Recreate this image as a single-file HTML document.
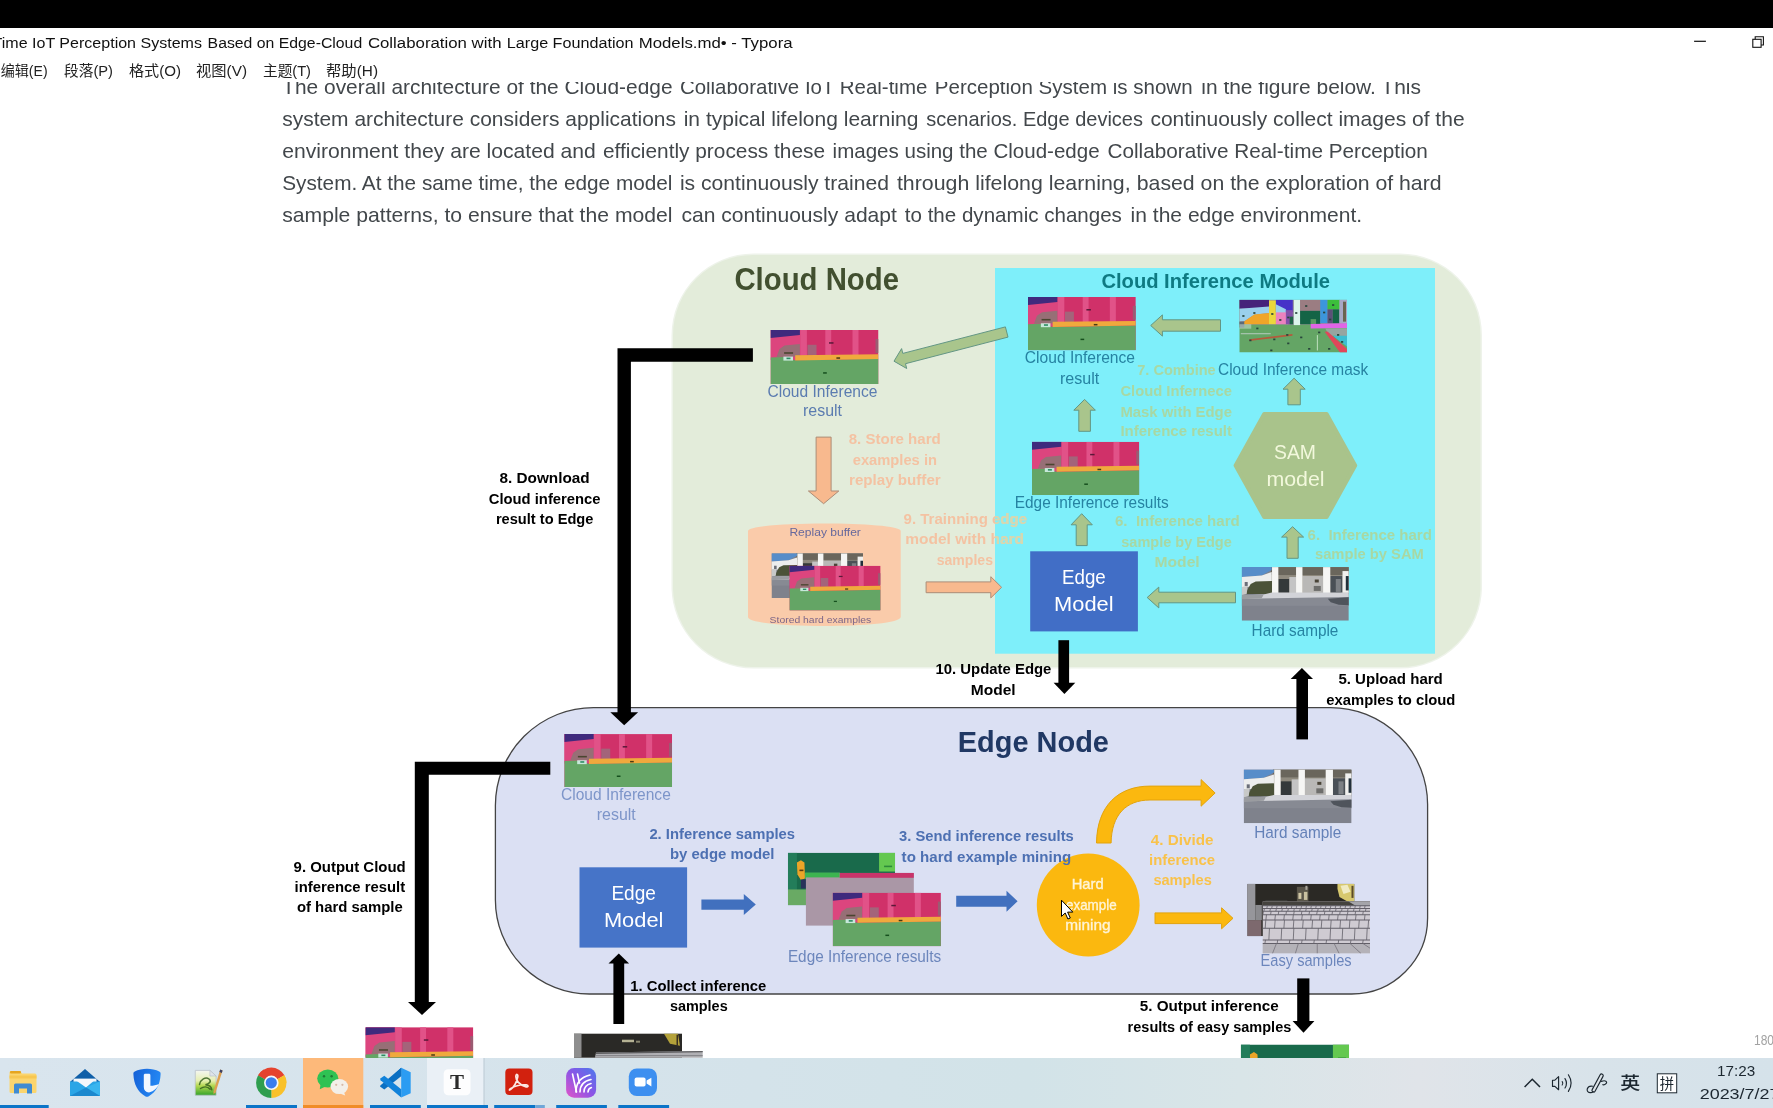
<!DOCTYPE html>
<html lang="zh-CN"><head><meta charset="utf-8"><title>Typora</title>
<style>
html,body{margin:0;padding:0;background:#fff;}
body{width:1773px;height:1108px;overflow:hidden;position:relative;font-family:"Liberation Sans","Noto Sans CJK SC",sans-serif;}
#blackbar{position:absolute;left:0;top:0;width:1773px;height:28px;background:#000;}
#titlebar{position:absolute;left:0;top:28px;width:1773px;height:30px;background:#fff;}
#menubar{position:absolute;left:0;top:58px;width:1773px;height:24px;background:#fff;}
#content{position:absolute;left:0;top:82px;width:1773px;height:976px;overflow:hidden;background:#fff;}
#taskbar{position:absolute;left:0;top:1058px;width:1773px;height:50px;background:linear-gradient(90deg,#d9e5ee 0%,#d5e3eb 35%,#d2e3e8 58%,#d9e5e8 70%,#e0e4e9 80%,#d8e3ea 90%,#d5e2ea 100%);overflow:hidden;}
div>svg{position:absolute;left:0;top:0;display:block;will-change:transform;}
svg text{font-family:"Liberation Sans","Noto Sans CJK SC",sans-serif;white-space:pre;}
</style></head>
<body>
<div id="blackbar"></div>
<div id="titlebar"><svg width="1773" height="30" viewBox="0 28 1773 30">
<text x="-7.5" y="47.6" font-size="15.4" fill="#111" font-weight="normal" textLength="209.5" lengthAdjust="spacingAndGlyphs" >Time IoT Perception Systems</text>
<text x="207.6" y="47.6" font-size="15.4" fill="#111" font-weight="normal" textLength="154.6" lengthAdjust="spacingAndGlyphs" >Based on Edge-Cloud</text>
<text x="367.9" y="47.6" font-size="15.4" fill="#111" font-weight="normal" textLength="133.6" lengthAdjust="spacingAndGlyphs" >Collaboration with</text>
<text x="506.8" y="47.6" font-size="15.4" fill="#111" font-weight="normal" textLength="126.7" lengthAdjust="spacingAndGlyphs" >Large Foundation</text>
<text x="638.7" y="47.6" font-size="15.4" fill="#111" font-weight="normal" textLength="153.9" lengthAdjust="spacingAndGlyphs" >Models.md• - Typora</text>
<rect x="1694.1" y="40.7" width="11.8" height="1.2" fill="#111"/>
<rect x="1752.8" y="39.3" width="8.3" height="8" fill="none" stroke="#111" stroke-width="1.1"/>
<path d="M1755.2 39.3 V36.8 H1763.4 V45 H1761.1" fill="none" stroke="#111" stroke-width="1.1"/>
</svg></div>
<div id="menubar"><svg width="1773" height="24" viewBox="0 58 1773 24">
<text x="0.8" y="75.8" font-size="14.6" fill="#222" font-weight="normal" textLength="46.8" lengthAdjust="spacingAndGlyphs" >编辑(E)</text>
<text x="64.0" y="75.8" font-size="14.6" fill="#222" font-weight="normal" textLength="49.0" lengthAdjust="spacingAndGlyphs" >段落(P)</text>
<text x="129.0" y="75.8" font-size="14.6" fill="#222" font-weight="normal" textLength="52.0" lengthAdjust="spacingAndGlyphs" >格式(O)</text>
<text x="196.0" y="75.8" font-size="14.6" fill="#222" font-weight="normal" textLength="51.0" lengthAdjust="spacingAndGlyphs" >视图(V)</text>
<text x="263.0" y="75.8" font-size="14.6" fill="#222" font-weight="normal" textLength="48.0" lengthAdjust="spacingAndGlyphs" >主题(T)</text>
<text x="326.0" y="75.8" font-size="14.6" fill="#222" font-weight="normal" textLength="52.0" lengthAdjust="spacingAndGlyphs" >帮助(H)</text>
</svg></div>
<div id="content"><svg width="1773" height="976" viewBox="0 82 1773 976">
<g>
<text x="282.2" y="94.0" font-size="20.6" fill="#42474b" font-weight="normal" textLength="390.4" lengthAdjust="spacingAndGlyphs" >The overall architecture of the Cloud-edge</text>
<text x="679.9" y="94.0" font-size="20.6" fill="#42474b" font-weight="normal" textLength="247.4" lengthAdjust="spacingAndGlyphs" >Collaborative IoT Real-time</text>
<text x="934.8" y="94.0" font-size="20.6" fill="#42474b" font-weight="normal" textLength="257.8" lengthAdjust="spacingAndGlyphs" >Perception System is shown</text>
<text x="1201.3" y="94.0" font-size="20.6" fill="#42474b" font-weight="normal" textLength="219.6" lengthAdjust="spacingAndGlyphs" >in the figure below. This</text>
</g>
<g>
<text x="282.2" y="126.0" font-size="20.6" fill="#42474b" font-weight="normal" textLength="393.8" lengthAdjust="spacingAndGlyphs" >system architecture considers applications</text>
<text x="683.7" y="126.0" font-size="20.6" fill="#42474b" font-weight="normal" textLength="234.8" lengthAdjust="spacingAndGlyphs" >in typical lifelong learning</text>
<text x="926.2" y="126.0" font-size="20.6" fill="#42474b" font-weight="normal" textLength="216.8" lengthAdjust="spacingAndGlyphs" >scenarios. Edge devices</text>
<text x="1150.4" y="126.0" font-size="20.6" fill="#42474b" font-weight="normal" textLength="314.2" lengthAdjust="spacingAndGlyphs" >continuously collect images of the</text>
</g>
<g>
<text x="282.2" y="158.0" font-size="20.6" fill="#42474b" font-weight="normal" textLength="313.6" lengthAdjust="spacingAndGlyphs" >environment they are located and</text>
<text x="603.0" y="158.0" font-size="20.6" fill="#42474b" font-weight="normal" textLength="222.0" lengthAdjust="spacingAndGlyphs" >efficiently process these</text>
<text x="832.6" y="158.0" font-size="20.6" fill="#42474b" font-weight="normal" textLength="267.0" lengthAdjust="spacingAndGlyphs" >images using the Cloud-edge</text>
<text x="1107.5" y="158.0" font-size="20.6" fill="#42474b" font-weight="normal" textLength="320.3" lengthAdjust="spacingAndGlyphs" >Collaborative Real-time Perception</text>
</g>
<g>
<text x="282.2" y="190.0" font-size="20.6" fill="#42474b" font-weight="normal" textLength="390.3" lengthAdjust="spacingAndGlyphs" >System. At the same time, the edge model</text>
<text x="679.9" y="190.0" font-size="20.6" fill="#42474b" font-weight="normal" textLength="209.1" lengthAdjust="spacingAndGlyphs" >is continuously trained</text>
<text x="896.9" y="190.0" font-size="20.6" fill="#42474b" font-weight="normal" textLength="233.7" lengthAdjust="spacingAndGlyphs" >through lifelong learning,</text>
<text x="1136.8" y="190.0" font-size="20.6" fill="#42474b" font-weight="normal" textLength="304.8" lengthAdjust="spacingAndGlyphs" >based on the exploration of hard</text>
</g>
<g>
<text x="282.2" y="222.0" font-size="20.6" fill="#42474b" font-weight="normal" textLength="390.3" lengthAdjust="spacingAndGlyphs" >sample patterns, to ensure that the model</text>
<text x="681.4" y="222.0" font-size="20.6" fill="#42474b" font-weight="normal" textLength="215.5" lengthAdjust="spacingAndGlyphs" >can continuously adapt</text>
<text x="904.8" y="222.0" font-size="20.6" fill="#42474b" font-weight="normal" textLength="217.1" lengthAdjust="spacingAndGlyphs" >to the dynamic changes</text>
<text x="1130.6" y="222.0" font-size="20.6" fill="#42474b" font-weight="normal" textLength="231.6" lengthAdjust="spacingAndGlyphs" >in the edge environment.</text>
</g>
<path d="M753.5,253.5 H1400.0 A82,82 0 0 1 1482.0,335.5 V586.5 A82,82 0 0 1 1400.0,668.5 H753.5 A82,82 0 0 1 671.5,586.5 V335.5 A82,82 0 0 1 753.5,253.5 Z" fill="#eef3ea"/>
<path d="M753.0,255.0 H1400.5 A80,80 0 0 1 1480.5,335.0 V587.0 A80,80 0 0 1 1400.5,667.0 H753.0 A80,80 0 0 1 673.0,587.0 V335.0 A80,80 0 0 1 753.0,255.0 Z" fill="#e3ecda"/>
<text x="734.4" y="289.7" font-size="31.5" fill="#425030" font-weight="bold" textLength="164.6" lengthAdjust="spacingAndGlyphs" >Cloud Node</text>
<rect x="995.0" y="268.0" width="440.0" height="385.7" fill="#7eeffa" />
<text x="1101.4" y="288.0" font-size="20.6" fill="#0e7a82" font-weight="bold" textLength="228.6" lengthAdjust="spacingAndGlyphs" >Cloud Inference Module</text>
<svg x="770.5" y="330.0" width="108.0" height="54.0" viewBox="0 0 108 54" preserveAspectRatio="none">
<rect x="0.0" y="0.0" width="108.0" height="54.0" fill="#d03169" />
<rect x="0.0" y="0.0" width="30.0" height="30.0" fill="#dc457e" />
<rect x="29.8" y="0.0" width="6.6" height="27.0" fill="#e15288" />
<rect x="54.8" y="0.0" width="5.9" height="27.0" fill="#e15288" />
<rect x="82.0" y="0.0" width="6.0" height="27.0" fill="#e15288" />
<polygon points="0.0,0.0 29.4,0.0 29.4,5.0 0.0,8.0" fill="#3f2a7d" />
<polygon points="6.0,27.0 9.0,19.0 14.0,15.5 29.4,14.0 29.4,26.6" fill="#976f76" />
<rect x="37.0" y="14.8" width="9.0" height="10.5" fill="#a3647a" />
<rect x="105.0" y="9.0" width="3.0" height="14.0" fill="#9a5c72" />
<polygon points="0.0,27.5 12.0,27.0 24.7,30.3 108.0,28.8 108.0,54.0 0.0,54.0" fill="#64a565" />
<polygon points="24.7,25.2 108.0,24.2 108.0,28.9 24.7,30.4" fill="#f0a93d" />
<rect x="12.9" y="26.6" width="9.6" height="4.0" fill="#c6e8da" />
<rect x="16.0" y="27.6" width="4.0" height="1.6" fill="#2e8a62" />
<rect x="13.6" y="22.2" width="9.0" height="1.6" fill="#4a4630" />
<rect x="58.5" y="12.2" width="4.5" height="1.5" fill="#5a1838" />
<rect x="65.9" y="27.3" width="3.7" height="1.5" fill="#4a3a12" />
<rect x="52.6" y="42.2" width="3.7" height="1.5" fill="#16501e" />
</svg>
<text x="767.5" y="396.8" font-size="16.8" fill="#5b7cb0" font-weight="normal" textLength="109.9" lengthAdjust="spacingAndGlyphs" >Cloud Inference</text>
<text x="803.0" y="416.0" font-size="16.8" fill="#5b7cb0" font-weight="normal" textLength="39.0" lengthAdjust="spacingAndGlyphs" >result</text>
<polygon points="823.6,503.7 838.8,491.0 831.1,491.0 831.1,437.1 816.1,437.1 816.1,491.0 808.4,491.0" fill="#f8b98e" stroke="#ab8d78" stroke-width="1" stroke-linejoin="miter"/>
<text x="848.7" y="444.2" font-size="15.2" fill="#f4c2a2" font-weight="bold" textLength="92.0" lengthAdjust="spacingAndGlyphs" >8. Store hard</text>
<text x="852.7" y="464.5" font-size="15.2" fill="#f4c2a2" font-weight="bold" textLength="84.3" lengthAdjust="spacingAndGlyphs" >examples in</text>
<text x="849.0" y="484.8" font-size="15.2" fill="#f4c2a2" font-weight="bold" textLength="91.7" lengthAdjust="spacingAndGlyphs" >replay buffer</text>
<path d="M748,531 C748,521 900.7,521 900.7,531 V617 C900.7,629 748,629 748,617 Z" fill="#facbaa"/>
<text x="789.4" y="535.6" font-size="10.8" fill="#66689c" font-weight="normal" textLength="71.5" lengthAdjust="spacingAndGlyphs" >Replay buffer</text>
<svg x="771.5" y="553.3" width="91.5" height="44.7" viewBox="0 0 107 54" preserveAspectRatio="none">
<rect x="0.0" y="0.0" width="107.0" height="54.0" fill="#7f828c" />
<rect x="0.0" y="30.0" width="107.0" height="9.0" fill="#878a93" />
<rect x="29.0" y="0.0" width="78.0" height="27.0" fill="#8f8a7e" />
<rect x="29.0" y="0.0" width="78.0" height="8.0" fill="#6a665c" />
<rect x="36.6" y="12.0" width="11.0" height="14.0" fill="#34393a" />
<rect x="47.6" y="10.0" width="7.0" height="16.0" fill="#c4c4c4" />
<rect x="60.7" y="9.0" width="20.6" height="17.0" fill="#b9b8b6" />
<rect x="73.0" y="12.5" width="4.0" height="3.0" fill="#4a4438" />
<rect x="72.0" y="19.0" width="7.0" height="5.0" fill="#6e6e6c" />
<rect x="88.5" y="9.0" width="12.2" height="17.0" fill="#4a5056" />
<rect x="94.0" y="12.0" width="5.0" height="13.0" fill="#7c8084" />
<polygon points="0.0,0.0 30.0,0.0 30.0,3.0 20.0,8.5 0.0,10.0" fill="#578dc9" />
<polygon points="0.0,10.0 20.0,8.5 30.0,5.0 30.0,19.0 0.0,20.0" fill="#eceded" />
<rect x="3.0" y="15.0" width="3.0" height="4.0" fill="#6a6e78" />
<polygon points="5.0,24.0 9.0,17.0 14.0,14.5 30.3,14.0 30.3,27.0 4.0,27.0" fill="#4b5238" />
<polygon points="0.0,20.0 6.0,19.0 5.0,27.0 0.0,28.0" fill="#c8c9c8" />
<rect x="30.3" y="0.0" width="6.3" height="26.5" fill="#f6f6f4" />
<rect x="54.3" y="0.0" width="6.4" height="26.5" fill="#f6f6f4" />
<rect x="81.3" y="0.0" width="7.2" height="26.5" fill="#f6f6f4" />
<rect x="100.7" y="4.0" width="6.3" height="22.0" fill="#f0f0ee" />
<rect x="104.0" y="9.0" width="3.0" height="14.5" fill="#22303a" />
<polygon points="22.0,27.5 30.0,25.6 107.0,25.6 107.0,30.0 0.0,32.0 0.0,28.5" fill="#d2d3d8" />
<polygon points="0.0,28.0 22.0,27.5 20.0,31.5 0.0,32.5" fill="#9a9ca0" />
<polygon points="86.0,32.0 107.0,30.5 107.0,38.5 97.0,38.0 89.0,35.5" fill="#4f545c" />
</svg>
<svg x="789.4" y="565.7" width="91.2" height="44.9" viewBox="0 0 108 54" preserveAspectRatio="none">
<rect x="0.0" y="0.0" width="108.0" height="54.0" fill="#d03169" />
<rect x="0.0" y="0.0" width="30.0" height="30.0" fill="#dc457e" />
<rect x="29.8" y="0.0" width="6.6" height="27.0" fill="#e15288" />
<rect x="54.8" y="0.0" width="5.9" height="27.0" fill="#e15288" />
<rect x="82.0" y="0.0" width="6.0" height="27.0" fill="#e15288" />
<polygon points="0.0,0.0 29.4,0.0 29.4,5.0 0.0,8.0" fill="#3f2a7d" />
<polygon points="6.0,27.0 9.0,19.0 14.0,15.5 29.4,14.0 29.4,26.6" fill="#976f76" />
<rect x="37.0" y="14.8" width="9.0" height="10.5" fill="#a3647a" />
<rect x="105.0" y="9.0" width="3.0" height="14.0" fill="#9a5c72" />
<polygon points="0.0,27.5 12.0,27.0 24.7,30.3 108.0,28.8 108.0,54.0 0.0,54.0" fill="#64a565" />
<polygon points="24.7,25.2 108.0,24.2 108.0,28.9 24.7,30.4" fill="#f0a93d" />
<rect x="12.9" y="26.6" width="9.6" height="4.0" fill="#c6e8da" />
<rect x="16.0" y="27.6" width="4.0" height="1.6" fill="#2e8a62" />
<rect x="13.6" y="22.2" width="9.0" height="1.6" fill="#4a4630" />
<rect x="58.5" y="12.2" width="4.5" height="1.5" fill="#5a1838" />
<rect x="65.9" y="27.3" width="3.7" height="1.5" fill="#4a3a12" />
<rect x="52.6" y="42.2" width="3.7" height="1.5" fill="#16501e" />
</svg>
<text x="769.6" y="623.2" font-size="9.9" fill="#7c6688" font-weight="normal" textLength="101.6" lengthAdjust="spacingAndGlyphs" >Stored hard examples</text>
<text x="903.6" y="523.5" font-size="15.2" fill="#f4c2a2" font-weight="bold" textLength="123.4" lengthAdjust="spacingAndGlyphs" >9. Trainning edge</text>
<text x="905.3" y="544.3" font-size="15.2" fill="#f4c2a2" font-weight="bold" textLength="118.7" lengthAdjust="spacingAndGlyphs" >model with hard</text>
<text x="936.7" y="564.9" font-size="15.2" fill="#f4c2a2" font-weight="bold" textLength="56.3" lengthAdjust="spacingAndGlyphs" >samples</text>
<polygon points="1001.6,587.3 990.8,576.7 990.8,581.9 926.1,581.9 926.1,592.7 990.8,592.7 990.8,597.9" fill="#f8b98e" stroke="#ab8d78" stroke-width="1"/>
<svg x="995" y="268" width="440" height="386" viewBox="995 268 440 386">
<text x="903.6" y="523.5" font-size="15.2" fill="#d3dab2" font-weight="bold" textLength="123.4" lengthAdjust="spacingAndGlyphs" >9. Trainning edge</text>
<text x="905.3" y="544.3" font-size="15.2" fill="#d3dab2" font-weight="bold" textLength="118.7" lengthAdjust="spacingAndGlyphs" >model with hard</text>
</svg>
<polygon points="894.0,361.2 901.6,348.6 902.8,353.4 1005.4,326.9 1008.0,337.1 905.5,363.7 906.7,368.5" fill="#a9c58c" stroke="#639684" stroke-width="1"/>
<svg x="1028.0" y="297.0" width="107.8" height="53.3" viewBox="0 0 108 54" preserveAspectRatio="none">
<rect x="0.0" y="0.0" width="108.0" height="54.0" fill="#d03169" />
<rect x="0.0" y="0.0" width="30.0" height="30.0" fill="#dc457e" />
<rect x="29.8" y="0.0" width="6.6" height="27.0" fill="#e15288" />
<rect x="54.8" y="0.0" width="5.9" height="27.0" fill="#e15288" />
<rect x="82.0" y="0.0" width="6.0" height="27.0" fill="#e15288" />
<polygon points="0.0,0.0 29.4,0.0 29.4,5.0 0.0,8.0" fill="#3f2a7d" />
<polygon points="6.0,27.0 9.0,19.0 14.0,15.5 29.4,14.0 29.4,26.6" fill="#976f76" />
<rect x="37.0" y="14.8" width="9.0" height="10.5" fill="#a3647a" />
<rect x="105.0" y="9.0" width="3.0" height="14.0" fill="#9a5c72" />
<polygon points="0.0,27.5 12.0,27.0 24.7,30.3 108.0,28.8 108.0,54.0 0.0,54.0" fill="#64a565" />
<polygon points="24.7,25.2 108.0,24.2 108.0,28.9 24.7,30.4" fill="#f0a93d" />
<rect x="12.9" y="26.6" width="9.6" height="4.0" fill="#c6e8da" />
<rect x="16.0" y="27.6" width="4.0" height="1.6" fill="#2e8a62" />
<rect x="13.6" y="22.2" width="9.0" height="1.6" fill="#4a4630" />
<rect x="58.5" y="12.2" width="4.5" height="1.5" fill="#5a1838" />
<rect x="65.9" y="27.3" width="3.7" height="1.5" fill="#4a3a12" />
<rect x="52.6" y="42.2" width="3.7" height="1.5" fill="#16501e" />
</svg>
<text x="1024.8" y="363.3" font-size="16.8" fill="#2683a2" font-weight="normal" textLength="110.2" lengthAdjust="spacingAndGlyphs" >Cloud Inference</text>
<text x="1060.0" y="383.6" font-size="16.8" fill="#2683a2" font-weight="normal" textLength="39.3" lengthAdjust="spacingAndGlyphs" >result</text>
<polygon points="1150.7,325.5 1162.4,314.9 1162.4,319.8 1220.5,319.8 1220.5,331.2 1162.4,331.2 1162.4,336.1" fill="#a9c58c" stroke="#639684" stroke-width="1"/>
<svg x="1239.3" y="299.7" width="107.7" height="52.8" viewBox="0 0 108 53" preserveAspectRatio="none">
<rect x="0.0" y="0.0" width="108.0" height="53.0" fill="#64a565" />
<rect x="0.0" y="0.0" width="108.0" height="25.0" fill="#8f8a96" />
<rect x="0.0" y="0.0" width="29.8" height="9.0" fill="#46237a" />
<polygon points="0.0,9.0 29.8,6.8 29.8,13.4 15.0,15.0 5.5,21.5 0.0,22.0" fill="#9ad0ec" />
<polygon points="5.5,21.5 15.0,14.9 29.8,13.4 29.8,24.6 3.0,24.6" fill="#f0a528" />
<rect x="0.0" y="22.0" width="5.0" height="6.0" fill="#5a6a78" />
<rect x="29.8" y="0.8" width="6.9" height="23.8" fill="#ebd73c" />
<rect x="36.7" y="0.0" width="16.9" height="12.5" fill="#4632c8" />
<polygon points="36.7,4.6 46.7,9.7 46.7,13.4 36.7,13.4" fill="#9ad0ec" />
<rect x="36.7" y="12.7" width="12.2" height="11.9" fill="#eb82be" />
<rect x="46.7" y="10.5" width="6.9" height="14.1" fill="#8250aa" />
<rect x="50.5" y="17.0" width="3.5" height="7.6" fill="#1e6446" />
<rect x="54.7" y="0.0" width="6.3" height="25.5" fill="#dcf5eb" />
<rect x="61.0" y="0.0" width="20.2" height="11.2" fill="#9b7d82" />
<rect x="61.0" y="11.2" width="20.2" height="13.4" fill="#146446" />
<rect x="71.5" y="19.5" width="5.5" height="5.0" fill="#5a9a64" />
<rect x="81.2" y="0.0" width="7.3" height="23.5" fill="#3c96dc" />
<rect x="88.5" y="0.0" width="12.5" height="9.7" fill="#3cbe3c" />
<rect x="88.5" y="9.7" width="5.2" height="14.0" fill="#5a5078" />
<rect x="93.7" y="9.7" width="6.6" height="14.0" fill="#146446" />
<rect x="100.3" y="0.0" width="7.7" height="24.0" fill="#a8a8c6" />
<rect x="104.0" y="2.0" width="3.0" height="20.0" fill="#6a6450" />
<polygon points="71.6,24.4 108.0,23.6 108.0,28.5 71.6,28.8" fill="#e164e6" />
<polygon points="86.3,28.9 108.0,28.6 108.0,36.4 90.0,36.2" fill="#96a5a0" />
<polygon points="93.7,36.2 108.0,36.2 108.0,47.0" fill="#3cbed2" />
<polygon points="85.6,32.2 88.5,31.8 108.0,49.5 108.0,53.0 101.0,53.0" fill="#e1465a" />
<polygon points="9.9,39.6 53.3,34.4 53.3,36.2 9.9,41.4" fill="#b45a3c" />
<rect x="0.0" y="24.6" width="12.0" height="4.5" fill="#c8dcd2" opacity="0.55"/>
<rect x="1.5" y="33.5" width="30.0" height="1.2" fill="#a8c4b0" />
<rect x="77.8" y="35.5" width="0.9" height="15.5" fill="#c8e6c8" />
<rect x="14.0" y="12.5" width="2.2" height="1.7" fill="#28463c" />
<rect x="32.0" y="13.5" width="2.2" height="1.7" fill="#28463c" />
<rect x="3.0" y="15.5" width="2.2" height="1.7" fill="#28463c" />
<rect x="40.0" y="19.5" width="2.2" height="1.7" fill="#28463c" />
<rect x="48.0" y="17.0" width="2.2" height="1.7" fill="#28463c" />
<rect x="56.0" y="12.5" width="2.2" height="1.7" fill="#28463c" />
<rect x="66.0" y="5.5" width="2.2" height="1.7" fill="#28463c" />
<rect x="84.0" y="12.0" width="2.2" height="1.7" fill="#28463c" />
<rect x="93.0" y="4.5" width="2.2" height="1.7" fill="#28463c" />
<rect x="90.0" y="19.0" width="2.2" height="1.7" fill="#28463c" />
<rect x="17.0" y="28.0" width="2.2" height="1.7" fill="#28463c" />
<rect x="34.0" y="39.0" width="2.2" height="1.7" fill="#28463c" />
<rect x="47.0" y="34.5" width="2.2" height="1.7" fill="#28463c" />
<rect x="61.0" y="37.0" width="2.2" height="1.7" fill="#28463c" />
<rect x="79.0" y="32.0" width="2.2" height="1.7" fill="#28463c" />
<rect x="48.0" y="43.0" width="2.2" height="1.7" fill="#28463c" />
<rect x="31.0" y="50.0" width="2.2" height="1.7" fill="#28463c" />
<rect x="69.0" y="48.5" width="2.2" height="1.7" fill="#28463c" />
<rect x="89.0" y="48.5" width="2.2" height="1.7" fill="#28463c" />
<rect x="98.0" y="34.5" width="2.2" height="1.7" fill="#28463c" />
<rect x="102.0" y="41.5" width="2.2" height="1.7" fill="#28463c" />
<rect x="10.0" y="40.0" width="2.2" height="1.7" fill="#28463c" />
</svg>
<text x="1137.2" y="375.0" font-size="15.2" fill="#a8d8a3" font-weight="bold" textLength="78.5" lengthAdjust="spacingAndGlyphs" >7. Combine</text>
<text x="1218.0" y="375.0" font-size="16.8" fill="#2683a2" font-weight="normal" textLength="150.2" lengthAdjust="spacingAndGlyphs" >Cloud Inference mask</text>
<text x="1120.4" y="395.8" font-size="15.2" fill="#a8d8a3" font-weight="bold" textLength="111.6" lengthAdjust="spacingAndGlyphs" >Cloud Infernece</text>
<text x="1120.4" y="416.6" font-size="15.2" fill="#a8d8a3" font-weight="bold" textLength="111.6" lengthAdjust="spacingAndGlyphs" >Mask with Edge</text>
<text x="1120.4" y="435.8" font-size="15.2" fill="#a8d8a3" font-weight="bold" textLength="111.6" lengthAdjust="spacingAndGlyphs" >Inference result</text>
<polygon points="1084.6,399.4 1095.4,410.2 1090.4,410.2 1090.4,431.3 1078.8,431.3 1078.8,410.2 1073.8,410.2" fill="#a9c58c" stroke="#639684" stroke-width="1" stroke-linejoin="miter"/>
<polygon points="1294.1,378.2 1305.2,389.2 1300.3,389.2 1300.3,404.8 1287.9,404.8 1287.9,389.2 1283.0,389.2" fill="#a9c58c" stroke="#639684" stroke-width="1" stroke-linejoin="miter"/>
<polygon points="1235.6,465.5 1264.2,414.0 1326.6,414.0 1355.2,465.5 1326.6,517.0 1264.2,517.0" fill="#a9c38b" stroke="#a9c38b" stroke-width="4" stroke-linejoin="round"/>
<text x="1274.0" y="458.6" font-size="20.4" fill="#f2f8dc" font-weight="normal" textLength="42.0" lengthAdjust="spacingAndGlyphs" >SAM</text>
<text x="1266.4" y="485.6" font-size="20.4" fill="#f2f8dc" font-weight="normal" textLength="58.2" lengthAdjust="spacingAndGlyphs" >model</text>
<svg x="1032.0" y="441.8" width="107.3" height="53.3" viewBox="0 0 108 54" preserveAspectRatio="none">
<rect x="0.0" y="0.0" width="108.0" height="54.0" fill="#d03169" />
<rect x="0.0" y="0.0" width="30.0" height="30.0" fill="#dc457e" />
<rect x="29.8" y="0.0" width="6.6" height="27.0" fill="#e15288" />
<rect x="54.8" y="0.0" width="5.9" height="27.0" fill="#e15288" />
<rect x="82.0" y="0.0" width="6.0" height="27.0" fill="#e15288" />
<polygon points="0.0,0.0 29.4,0.0 29.4,5.0 0.0,8.0" fill="#3f2a7d" />
<polygon points="6.0,27.0 9.0,19.0 14.0,15.5 29.4,14.0 29.4,26.6" fill="#976f76" />
<rect x="37.0" y="14.8" width="9.0" height="10.5" fill="#a3647a" />
<rect x="105.0" y="9.0" width="3.0" height="14.0" fill="#9a5c72" />
<polygon points="0.0,27.5 12.0,27.0 24.7,30.3 108.0,28.8 108.0,54.0 0.0,54.0" fill="#64a565" />
<polygon points="24.7,25.2 108.0,24.2 108.0,28.9 24.7,30.4" fill="#f0a93d" />
<rect x="12.9" y="26.6" width="9.6" height="4.0" fill="#c6e8da" />
<rect x="16.0" y="27.6" width="4.0" height="1.6" fill="#2e8a62" />
<rect x="13.6" y="22.2" width="9.0" height="1.6" fill="#4a4630" />
<rect x="58.5" y="12.2" width="4.5" height="1.5" fill="#5a1838" />
<rect x="65.9" y="27.3" width="3.7" height="1.5" fill="#4a3a12" />
<rect x="52.6" y="42.2" width="3.7" height="1.5" fill="#16501e" />
</svg>
<text x="1014.8" y="508.1" font-size="16.8" fill="#2683a2" font-weight="normal" textLength="154.0" lengthAdjust="spacingAndGlyphs" >Edge Inference results</text>
<polygon points="1081.7,513.7 1092.3,524.8 1087.2,524.8 1087.2,545.6 1076.2,545.6 1076.2,524.8 1071.1,524.8" fill="#a9c58c" stroke="#639684" stroke-width="1" stroke-linejoin="miter"/>
<text x="1115.0" y="526.2" font-size="15.2" fill="#a8d8a3" font-weight="bold" textLength="124.7" lengthAdjust="spacingAndGlyphs" >6.  Inference hard</text>
<text x="1121.3" y="546.5" font-size="15.2" fill="#a8d8a3" font-weight="bold" textLength="110.5" lengthAdjust="spacingAndGlyphs" >sample by Edge</text>
<text x="1154.5" y="567.1" font-size="15.2" fill="#a8d8a3" font-weight="bold" textLength="45.2" lengthAdjust="spacingAndGlyphs" >Model</text>
<polygon points="1292.6,526.7 1303.6,537.1 1298.2,537.1 1298.2,558.3 1287.0,558.3 1287.0,537.1 1281.6,537.1" fill="#a9c58c" stroke="#639684" stroke-width="1" stroke-linejoin="miter"/>
<text x="1307.6" y="539.5" font-size="15.2" fill="#a8d8a3" font-weight="bold" textLength="124.2" lengthAdjust="spacingAndGlyphs" >6.  Inference hard</text>
<text x="1315.0" y="559.0" font-size="15.2" fill="#a8d8a3" font-weight="bold" textLength="108.8" lengthAdjust="spacingAndGlyphs" >sample by SAM</text>
<rect x="1030.2" y="551.3" width="107.7" height="80.1" fill="#416ec6" />
<text x="1062.0" y="584.0" font-size="20.4" fill="#fff" font-weight="normal" textLength="43.8" lengthAdjust="spacingAndGlyphs" >Edge</text>
<text x="1054.1" y="611.4" font-size="20.4" fill="#fff" font-weight="normal" textLength="59.5" lengthAdjust="spacingAndGlyphs" >Model</text>
<polygon points="1147.2,597.5 1158.8,587.1 1158.8,592.2 1235.5,592.2 1235.5,602.8 1158.8,602.8 1158.8,607.9" fill="#a9c58c" stroke="#639684" stroke-width="1"/>
<svg x="1241.7" y="567.1" width="107.1" height="53.6" viewBox="0 0 107 54" preserveAspectRatio="none">
<rect x="0.0" y="0.0" width="107.0" height="54.0" fill="#7f828c" />
<rect x="0.0" y="30.0" width="107.0" height="9.0" fill="#878a93" />
<rect x="29.0" y="0.0" width="78.0" height="27.0" fill="#8f8a7e" />
<rect x="29.0" y="0.0" width="78.0" height="8.0" fill="#6a665c" />
<rect x="36.6" y="12.0" width="11.0" height="14.0" fill="#34393a" />
<rect x="47.6" y="10.0" width="7.0" height="16.0" fill="#c4c4c4" />
<rect x="60.7" y="9.0" width="20.6" height="17.0" fill="#b9b8b6" />
<rect x="73.0" y="12.5" width="4.0" height="3.0" fill="#4a4438" />
<rect x="72.0" y="19.0" width="7.0" height="5.0" fill="#6e6e6c" />
<rect x="88.5" y="9.0" width="12.2" height="17.0" fill="#4a5056" />
<rect x="94.0" y="12.0" width="5.0" height="13.0" fill="#7c8084" />
<polygon points="0.0,0.0 30.0,0.0 30.0,3.0 20.0,8.5 0.0,10.0" fill="#578dc9" />
<polygon points="0.0,10.0 20.0,8.5 30.0,5.0 30.0,19.0 0.0,20.0" fill="#eceded" />
<rect x="3.0" y="15.0" width="3.0" height="4.0" fill="#6a6e78" />
<polygon points="5.0,24.0 9.0,17.0 14.0,14.5 30.3,14.0 30.3,27.0 4.0,27.0" fill="#4b5238" />
<polygon points="0.0,20.0 6.0,19.0 5.0,27.0 0.0,28.0" fill="#c8c9c8" />
<rect x="30.3" y="0.0" width="6.3" height="26.5" fill="#f6f6f4" />
<rect x="54.3" y="0.0" width="6.4" height="26.5" fill="#f6f6f4" />
<rect x="81.3" y="0.0" width="7.2" height="26.5" fill="#f6f6f4" />
<rect x="100.7" y="4.0" width="6.3" height="22.0" fill="#f0f0ee" />
<rect x="104.0" y="9.0" width="3.0" height="14.5" fill="#22303a" />
<polygon points="22.0,27.5 30.0,25.6 107.0,25.6 107.0,30.0 0.0,32.0 0.0,28.5" fill="#d2d3d8" />
<polygon points="0.0,28.0 22.0,27.5 20.0,31.5 0.0,32.5" fill="#9a9ca0" />
<polygon points="86.0,32.0 107.0,30.5 107.0,38.5 97.0,38.0 89.0,35.5" fill="#4f545c" />
</svg>
<text x="1251.6" y="636.0" font-size="16.8" fill="#2683a2" font-weight="normal" textLength="86.8" lengthAdjust="spacingAndGlyphs" >Hard sample</text>
<path d="M593.4,707.6 H1330.6 A97,97 0 0 1 1427.6,804.6 V918.0 A76,76 0 0 1 1351.6,994.0 H589.4 A94,94 0 0 1 495.4,900.0 V805.6 A98,98 0 0 1 593.4,707.6 Z" fill="#dbe0f3" stroke="#444" stroke-width="1.3"/>
<text x="957.8" y="752.4" font-size="29.5" fill="#203864" font-weight="bold" textLength="151.1" lengthAdjust="spacingAndGlyphs" >Edge Node</text>
<svg x="564.3" y="734.1" width="107.8" height="53.0" viewBox="0 0 108 54" preserveAspectRatio="none">
<rect x="0.0" y="0.0" width="108.0" height="54.0" fill="#d03169" />
<rect x="0.0" y="0.0" width="30.0" height="30.0" fill="#dc457e" />
<rect x="29.8" y="0.0" width="6.6" height="27.0" fill="#e15288" />
<rect x="54.8" y="0.0" width="5.9" height="27.0" fill="#e15288" />
<rect x="82.0" y="0.0" width="6.0" height="27.0" fill="#e15288" />
<polygon points="0.0,0.0 29.4,0.0 29.4,5.0 0.0,8.0" fill="#3f2a7d" />
<polygon points="6.0,27.0 9.0,19.0 14.0,15.5 29.4,14.0 29.4,26.6" fill="#976f76" />
<rect x="37.0" y="14.8" width="9.0" height="10.5" fill="#a3647a" />
<rect x="105.0" y="9.0" width="3.0" height="14.0" fill="#9a5c72" />
<polygon points="0.0,27.5 12.0,27.0 24.7,30.3 108.0,28.8 108.0,54.0 0.0,54.0" fill="#64a565" />
<polygon points="24.7,25.2 108.0,24.2 108.0,28.9 24.7,30.4" fill="#f0a93d" />
<rect x="12.9" y="26.6" width="9.6" height="4.0" fill="#c6e8da" />
<rect x="16.0" y="27.6" width="4.0" height="1.6" fill="#2e8a62" />
<rect x="13.6" y="22.2" width="9.0" height="1.6" fill="#4a4630" />
<rect x="58.5" y="12.2" width="4.5" height="1.5" fill="#5a1838" />
<rect x="65.9" y="27.3" width="3.7" height="1.5" fill="#4a3a12" />
<rect x="52.6" y="42.2" width="3.7" height="1.5" fill="#16501e" />
</svg>
<text x="561.0" y="800.0" font-size="16.8" fill="#7d95c9" font-weight="normal" textLength="109.8" lengthAdjust="spacingAndGlyphs" >Cloud Inference</text>
<text x="596.8" y="820.2" font-size="16.8" fill="#7d95c9" font-weight="normal" textLength="39.0" lengthAdjust="spacingAndGlyphs" >result</text>
<text x="649.4" y="838.7" font-size="15.2" fill="#4d70b2" font-weight="bold" textLength="145.6" lengthAdjust="spacingAndGlyphs" >2. Inference samples</text>
<text x="669.9" y="858.8" font-size="15.2" fill="#4d70b2" font-weight="bold" textLength="104.6" lengthAdjust="spacingAndGlyphs" >by edge model</text>
<rect x="579.5" y="867.3" width="107.6" height="80.3" fill="#4674c8" />
<text x="611.4" y="899.8" font-size="20.4" fill="#fff" font-weight="normal" textLength="44.5" lengthAdjust="spacingAndGlyphs" >Edge</text>
<text x="603.9" y="927.4" font-size="20.4" fill="#fff" font-weight="normal" textLength="59.5" lengthAdjust="spacingAndGlyphs" >Model</text>
<polygon points="755.8,904.6 743.8,894.1 743.8,899.5 701.4,899.5 701.4,909.7 743.8,909.7 743.8,915.1" fill="#4170be" />
<svg x="787.9" y="852.7" width="107.2" height="52.6" viewBox="0 0 107 53" preserveAspectRatio="none">
<rect x="0.0" y="0.0" width="107.0" height="53.0" fill="#196a4b" />
<rect x="0.0" y="0.0" width="9.0" height="38.0" fill="#237d5a" />
<rect x="91.0" y="0.0" width="16.0" height="19.0" fill="#64c850" />
<rect x="17.0" y="20.0" width="35.0" height="6.5" fill="#3cb450" />
<polygon points="9.0,10.0 13.0,7.5 16.5,10.0 17.0,26.0 13.0,27.5 9.5,22.0" fill="#eba528" />
<rect x="13.0" y="27.0" width="5.0" height="9.0" fill="#28325a" />
<rect x="0.0" y="37.0" width="107.0" height="16.0" fill="#69aa64" />
<rect x="29.0" y="23.0" width="10.0" height="1.8" fill="#0f4628" />
<rect x="96.0" y="13.0" width="8.0" height="1.6" fill="#2e8a3a" />
<rect x="11.5" y="17.0" width="4.0" height="1.6" fill="#5a3a14" />
</svg>
<svg x="805.7" y="872.8" width="108.2" height="53.0" viewBox="0 0 108 53" preserveAspectRatio="none">
<rect x="0.0" y="0.0" width="108.0" height="53.0" fill="#aa97a6" />
<rect x="33.8" y="0.0" width="74.2" height="5.0" fill="#c8346a" />
<rect x="0.0" y="0.0" width="33.8" height="4.6" fill="#3cb450" />
</svg>
<svg x="832.7" y="892.7" width="108.2" height="53.6" viewBox="0 0 108 54" preserveAspectRatio="none">
<rect x="0.0" y="0.0" width="108.0" height="54.0" fill="#d03169" />
<rect x="0.0" y="0.0" width="30.0" height="30.0" fill="#dc457e" />
<rect x="29.8" y="0.0" width="6.6" height="27.0" fill="#e15288" />
<rect x="54.8" y="0.0" width="5.9" height="27.0" fill="#e15288" />
<rect x="82.0" y="0.0" width="6.0" height="27.0" fill="#e15288" />
<polygon points="0.0,0.0 29.4,0.0 29.4,5.0 0.0,8.0" fill="#3f2a7d" />
<polygon points="6.0,27.0 9.0,19.0 14.0,15.5 29.4,14.0 29.4,26.6" fill="#976f76" />
<rect x="37.0" y="14.8" width="9.0" height="10.5" fill="#a3647a" />
<rect x="105.0" y="9.0" width="3.0" height="14.0" fill="#9a5c72" />
<polygon points="0.0,27.5 12.0,27.0 24.7,30.3 108.0,28.8 108.0,54.0 0.0,54.0" fill="#64a565" />
<polygon points="24.7,25.2 108.0,24.2 108.0,28.9 24.7,30.4" fill="#f0a93d" />
<rect x="12.9" y="26.6" width="9.6" height="4.0" fill="#c6e8da" />
<rect x="16.0" y="27.6" width="4.0" height="1.6" fill="#2e8a62" />
<rect x="13.6" y="22.2" width="9.0" height="1.6" fill="#4a4630" />
<rect x="58.5" y="12.2" width="4.5" height="1.5" fill="#5a1838" />
<rect x="65.9" y="27.3" width="3.7" height="1.5" fill="#4a3a12" />
<rect x="52.6" y="42.2" width="3.7" height="1.5" fill="#16501e" />
</svg>
<text x="787.9" y="961.5" font-size="16.8" fill="#6c86bc" font-weight="normal" textLength="153.3" lengthAdjust="spacingAndGlyphs" >Edge Inference results</text>
<circle cx="1088.2" cy="905" r="51.4" fill="#fbb80f"/>
<text x="899.0" y="840.7" font-size="15.2" fill="#4d70b2" font-weight="bold" textLength="174.8" lengthAdjust="spacingAndGlyphs" >3. Send inference results</text>
<text x="901.6" y="861.5" font-size="15.2" fill="#4d70b2" font-weight="bold" textLength="169.6" lengthAdjust="spacingAndGlyphs" >to hard example mining</text>
<polygon points="1017.6,901.3 1006.5,890.8 1006.5,895.8 956.2,895.8 956.2,906.8 1006.5,906.8 1006.5,911.8" fill="#4170be" />
<path d="M1096.5,843 C1097,806 1118,786.1 1150,786.1 H1201.1 V779.6 L1215.1,793 L1201.1,806.2 V800 H1150 C1126,800 1111.5,815 1111.1,843 Z" fill="#fbb80f" stroke="#e2a30c" stroke-width="1"/>
<text x="1071.7" y="889.2" font-size="14.6" fill="#fff4d6" font-weight="normal" textLength="32.0" lengthAdjust="spacingAndGlyphs" stroke="#fff4d6" stroke-width="0.35">Hard</text>
<text x="1066.0" y="909.7" font-size="14.6" fill="#fff4d6" font-weight="normal" textLength="50.6" lengthAdjust="spacingAndGlyphs" stroke="#fff4d6" stroke-width="0.35">example</text>
<text x="1065.2" y="930.3" font-size="14.6" fill="#fff4d6" font-weight="normal" textLength="45.4" lengthAdjust="spacingAndGlyphs" stroke="#fff4d6" stroke-width="0.35">mining</text>
<text x="1150.8" y="844.6" font-size="15.2" fill="#f9c24a" font-weight="bold" textLength="62.7" lengthAdjust="spacingAndGlyphs" >4. Divide</text>
<text x="1149.1" y="865.0" font-size="15.2" fill="#f9c24a" font-weight="bold" textLength="66.0" lengthAdjust="spacingAndGlyphs" >inference</text>
<text x="1153.4" y="885.2" font-size="15.2" fill="#f9c24a" font-weight="bold" textLength="58.4" lengthAdjust="spacingAndGlyphs" >samples</text>
<polygon points="1233.0,918.3 1221.6,907.8 1221.6,912.9 1155.0,912.9 1155.0,923.6 1221.6,923.6 1221.6,928.8" fill="#fbb80f" stroke="#e2a30c" stroke-width="1"/>
<svg x="1243.7" y="769.4" width="107.9" height="53.8" viewBox="0 0 107 54" preserveAspectRatio="none">
<rect x="0.0" y="0.0" width="107.0" height="54.0" fill="#7f828c" />
<rect x="0.0" y="30.0" width="107.0" height="9.0" fill="#878a93" />
<rect x="29.0" y="0.0" width="78.0" height="27.0" fill="#8f8a7e" />
<rect x="29.0" y="0.0" width="78.0" height="8.0" fill="#6a665c" />
<rect x="36.6" y="12.0" width="11.0" height="14.0" fill="#34393a" />
<rect x="47.6" y="10.0" width="7.0" height="16.0" fill="#c4c4c4" />
<rect x="60.7" y="9.0" width="20.6" height="17.0" fill="#b9b8b6" />
<rect x="73.0" y="12.5" width="4.0" height="3.0" fill="#4a4438" />
<rect x="72.0" y="19.0" width="7.0" height="5.0" fill="#6e6e6c" />
<rect x="88.5" y="9.0" width="12.2" height="17.0" fill="#4a5056" />
<rect x="94.0" y="12.0" width="5.0" height="13.0" fill="#7c8084" />
<polygon points="0.0,0.0 30.0,0.0 30.0,3.0 20.0,8.5 0.0,10.0" fill="#578dc9" />
<polygon points="0.0,10.0 20.0,8.5 30.0,5.0 30.0,19.0 0.0,20.0" fill="#eceded" />
<rect x="3.0" y="15.0" width="3.0" height="4.0" fill="#6a6e78" />
<polygon points="5.0,24.0 9.0,17.0 14.0,14.5 30.3,14.0 30.3,27.0 4.0,27.0" fill="#4b5238" />
<polygon points="0.0,20.0 6.0,19.0 5.0,27.0 0.0,28.0" fill="#c8c9c8" />
<rect x="30.3" y="0.0" width="6.3" height="26.5" fill="#f6f6f4" />
<rect x="54.3" y="0.0" width="6.4" height="26.5" fill="#f6f6f4" />
<rect x="81.3" y="0.0" width="7.2" height="26.5" fill="#f6f6f4" />
<rect x="100.7" y="4.0" width="6.3" height="22.0" fill="#f0f0ee" />
<rect x="104.0" y="9.0" width="3.0" height="14.5" fill="#22303a" />
<polygon points="22.0,27.5 30.0,25.6 107.0,25.6 107.0,30.0 0.0,32.0 0.0,28.5" fill="#d2d3d8" />
<polygon points="0.0,28.0 22.0,27.5 20.0,31.5 0.0,32.5" fill="#9a9ca0" />
<polygon points="86.0,32.0 107.0,30.5 107.0,38.5 97.0,38.0 89.0,35.5" fill="#4f545c" />
</svg>
<text x="1254.2" y="838.0" font-size="16.8" fill="#6481b8" font-weight="normal" textLength="87.0" lengthAdjust="spacingAndGlyphs" >Hard sample</text>
<svg x="1247.3" y="883.8" width="107.2" height="52.4" viewBox="0 0 107 52" preserveAspectRatio="none">
<rect x="0.0" y="0.0" width="107.0" height="52.0" fill="#2b2925" />
<rect x="0.0" y="0.0" width="8.0" height="36.0" fill="#96969b" />
<rect x="0.0" y="36.0" width="14.0" height="16.0" fill="#7d696e" />
<rect x="8.0" y="21.0" width="6.5" height="15.0" fill="#8a8a8e" />
<rect x="49.5" y="3.0" width="11.5" height="15.0" fill="#5a564a" />
<rect x="51.0" y="9.0" width="3.0" height="6.0" fill="#d2c8a5" />
<rect x="56.5" y="8.0" width="3.5" height="8.0" fill="#c8c0a0" />
<rect x="58.0" y="2.0" width="2.0" height="4.0" fill="#a8a49a" />
<polygon points="90.0,0.0 107.0,0.0 107.0,17.0 100.0,17.5 92.0,13.0 90.0,5.0" fill="#d7c86e" />
<polygon points="93.0,2.0 100.0,1.0 103.0,8.0 96.0,10.0" fill="#f0ebc3" />
<rect x="104.0" y="2.0" width="2.0" height="12.0" fill="#5a4a28" />
<rect x="18.0" y="16.0" width="22.0" height="6.0" fill="#3a3a36" />
</svg>
<svg x="1262.5" y="901.2" width="107.5" height="52.3" viewBox="0 0 108 52" preserveAspectRatio="none">
<rect x="0.0" y="0.0" width="108.0" height="52.0" fill="#cfcbd2" />
<rect x="0.0" y="0.0" width="108.0" height="4.5" fill="#45433e" />
<polygon points="86.0,0.0 108.0,0.0 108.0,4.8 94.0,4.8" fill="#a5a5aa" />
<rect x="0.0" y="42.1" width="108.0" height="9.9" fill="#b4b2b8" />
<line x1="0" y1="4.5" x2="108" y2="4.5" stroke="#625f68" stroke-width="1"/>
<line x1="0.0" y1="4.5" x2="-0.6" y2="7.2" stroke="#625f68" stroke-width="0.8"/>
<line x1="4.9" y1="4.5" x2="4.3" y2="7.2" stroke="#625f68" stroke-width="0.8"/>
<line x1="9.8" y1="4.5" x2="9.2" y2="7.2" stroke="#625f68" stroke-width="0.8"/>
<line x1="14.7" y1="4.5" x2="14.1" y2="7.2" stroke="#625f68" stroke-width="0.8"/>
<line x1="19.6" y1="4.5" x2="19.0" y2="7.2" stroke="#625f68" stroke-width="0.8"/>
<line x1="24.5" y1="4.5" x2="23.9" y2="7.2" stroke="#625f68" stroke-width="0.8"/>
<line x1="29.5" y1="4.5" x2="28.9" y2="7.2" stroke="#625f68" stroke-width="0.8"/>
<line x1="34.4" y1="4.5" x2="33.8" y2="7.2" stroke="#625f68" stroke-width="0.8"/>
<line x1="39.3" y1="4.5" x2="38.7" y2="7.2" stroke="#625f68" stroke-width="0.8"/>
<line x1="44.2" y1="4.5" x2="43.6" y2="7.2" stroke="#625f68" stroke-width="0.8"/>
<line x1="49.1" y1="4.5" x2="48.5" y2="7.2" stroke="#625f68" stroke-width="0.8"/>
<line x1="54.0" y1="4.5" x2="53.4" y2="7.2" stroke="#625f68" stroke-width="0.8"/>
<line x1="58.9" y1="4.5" x2="58.3" y2="7.2" stroke="#625f68" stroke-width="0.8"/>
<line x1="63.8" y1="4.5" x2="63.2" y2="7.2" stroke="#625f68" stroke-width="0.8"/>
<line x1="68.7" y1="4.5" x2="68.1" y2="7.2" stroke="#625f68" stroke-width="0.8"/>
<line x1="73.6" y1="4.5" x2="73.0" y2="7.2" stroke="#625f68" stroke-width="0.8"/>
<line x1="78.5" y1="4.5" x2="77.9" y2="7.2" stroke="#625f68" stroke-width="0.8"/>
<line x1="83.5" y1="4.5" x2="82.9" y2="7.2" stroke="#625f68" stroke-width="0.8"/>
<line x1="88.4" y1="4.5" x2="87.8" y2="7.2" stroke="#625f68" stroke-width="0.8"/>
<line x1="93.3" y1="4.5" x2="92.7" y2="7.2" stroke="#625f68" stroke-width="0.8"/>
<line x1="98.2" y1="4.5" x2="97.6" y2="7.2" stroke="#625f68" stroke-width="0.8"/>
<line x1="103.1" y1="4.5" x2="102.5" y2="7.2" stroke="#625f68" stroke-width="0.8"/>
<line x1="0" y1="7.2" x2="108" y2="7.2" stroke="#625f68" stroke-width="1"/>
<line x1="2.0" y1="7.2" x2="1.4" y2="9.9" stroke="#625f68" stroke-width="0.8"/>
<line x1="8.0" y1="7.2" x2="7.4" y2="9.9" stroke="#625f68" stroke-width="0.8"/>
<line x1="14.0" y1="7.2" x2="13.4" y2="9.9" stroke="#625f68" stroke-width="0.8"/>
<line x1="20.0" y1="7.2" x2="19.4" y2="9.9" stroke="#625f68" stroke-width="0.8"/>
<line x1="26.0" y1="7.2" x2="25.4" y2="9.9" stroke="#625f68" stroke-width="0.8"/>
<line x1="32.0" y1="7.2" x2="31.4" y2="9.9" stroke="#625f68" stroke-width="0.8"/>
<line x1="38.0" y1="7.2" x2="37.4" y2="9.9" stroke="#625f68" stroke-width="0.8"/>
<line x1="44.0" y1="7.2" x2="43.4" y2="9.9" stroke="#625f68" stroke-width="0.8"/>
<line x1="50.0" y1="7.2" x2="49.4" y2="9.9" stroke="#625f68" stroke-width="0.8"/>
<line x1="56.0" y1="7.2" x2="55.4" y2="9.9" stroke="#625f68" stroke-width="0.8"/>
<line x1="62.0" y1="7.2" x2="61.4" y2="9.9" stroke="#625f68" stroke-width="0.8"/>
<line x1="68.0" y1="7.2" x2="67.4" y2="9.9" stroke="#625f68" stroke-width="0.8"/>
<line x1="74.0" y1="7.2" x2="73.4" y2="9.9" stroke="#625f68" stroke-width="0.8"/>
<line x1="80.0" y1="7.2" x2="79.4" y2="9.9" stroke="#625f68" stroke-width="0.8"/>
<line x1="86.0" y1="7.2" x2="85.4" y2="9.9" stroke="#625f68" stroke-width="0.8"/>
<line x1="92.0" y1="7.2" x2="91.4" y2="9.9" stroke="#625f68" stroke-width="0.8"/>
<line x1="98.0" y1="7.2" x2="97.4" y2="9.9" stroke="#625f68" stroke-width="0.8"/>
<line x1="104.0" y1="7.2" x2="103.4" y2="9.9" stroke="#625f68" stroke-width="0.8"/>
<line x1="0" y1="9.9" x2="108" y2="9.9" stroke="#625f68" stroke-width="1"/>
<line x1="1.0" y1="9.9" x2="0.4" y2="13.4" stroke="#625f68" stroke-width="0.8"/>
<line x1="8.7" y1="9.9" x2="8.1" y2="13.4" stroke="#625f68" stroke-width="0.8"/>
<line x1="16.4" y1="9.9" x2="15.8" y2="13.4" stroke="#625f68" stroke-width="0.8"/>
<line x1="24.1" y1="9.9" x2="23.5" y2="13.4" stroke="#625f68" stroke-width="0.8"/>
<line x1="31.9" y1="9.9" x2="31.3" y2="13.4" stroke="#625f68" stroke-width="0.8"/>
<line x1="39.6" y1="9.9" x2="39.0" y2="13.4" stroke="#625f68" stroke-width="0.8"/>
<line x1="47.3" y1="9.9" x2="46.7" y2="13.4" stroke="#625f68" stroke-width="0.8"/>
<line x1="55.0" y1="9.9" x2="54.4" y2="13.4" stroke="#625f68" stroke-width="0.8"/>
<line x1="62.7" y1="9.9" x2="62.1" y2="13.4" stroke="#625f68" stroke-width="0.8"/>
<line x1="70.4" y1="9.9" x2="69.8" y2="13.4" stroke="#625f68" stroke-width="0.8"/>
<line x1="78.1" y1="9.9" x2="77.5" y2="13.4" stroke="#625f68" stroke-width="0.8"/>
<line x1="85.9" y1="9.9" x2="85.3" y2="13.4" stroke="#625f68" stroke-width="0.8"/>
<line x1="93.6" y1="9.9" x2="93.0" y2="13.4" stroke="#625f68" stroke-width="0.8"/>
<line x1="101.3" y1="9.9" x2="100.7" y2="13.4" stroke="#625f68" stroke-width="0.8"/>
<line x1="0" y1="13.4" x2="108" y2="13.4" stroke="#625f68" stroke-width="1"/>
<line x1="4.0" y1="13.4" x2="3.4" y2="18.8" stroke="#625f68" stroke-width="0.8"/>
<line x1="13.0" y1="13.4" x2="12.4" y2="18.8" stroke="#625f68" stroke-width="0.8"/>
<line x1="22.0" y1="13.4" x2="21.4" y2="18.8" stroke="#625f68" stroke-width="0.8"/>
<line x1="31.0" y1="13.4" x2="30.4" y2="18.8" stroke="#625f68" stroke-width="0.8"/>
<line x1="40.0" y1="13.4" x2="39.4" y2="18.8" stroke="#625f68" stroke-width="0.8"/>
<line x1="49.0" y1="13.4" x2="48.4" y2="18.8" stroke="#625f68" stroke-width="0.8"/>
<line x1="58.0" y1="13.4" x2="57.4" y2="18.8" stroke="#625f68" stroke-width="0.8"/>
<line x1="67.0" y1="13.4" x2="66.4" y2="18.8" stroke="#625f68" stroke-width="0.8"/>
<line x1="76.0" y1="13.4" x2="75.4" y2="18.8" stroke="#625f68" stroke-width="0.8"/>
<line x1="85.0" y1="13.4" x2="84.4" y2="18.8" stroke="#625f68" stroke-width="0.8"/>
<line x1="94.0" y1="13.4" x2="93.4" y2="18.8" stroke="#625f68" stroke-width="0.8"/>
<line x1="103.0" y1="13.4" x2="102.4" y2="18.8" stroke="#625f68" stroke-width="0.8"/>
<line x1="0" y1="18.8" x2="108" y2="18.8" stroke="#625f68" stroke-width="1"/>
<line x1="3.3" y1="18.8" x2="2.7" y2="26.9" stroke="#625f68" stroke-width="0.8"/>
<line x1="12.7" y1="18.8" x2="12.1" y2="26.9" stroke="#625f68" stroke-width="0.8"/>
<line x1="22.1" y1="18.8" x2="21.5" y2="26.9" stroke="#625f68" stroke-width="0.8"/>
<line x1="31.5" y1="18.8" x2="30.9" y2="26.9" stroke="#625f68" stroke-width="0.8"/>
<line x1="40.9" y1="18.8" x2="40.3" y2="26.9" stroke="#625f68" stroke-width="0.8"/>
<line x1="50.3" y1="18.8" x2="49.7" y2="26.9" stroke="#625f68" stroke-width="0.8"/>
<line x1="59.6" y1="18.8" x2="59.0" y2="26.9" stroke="#625f68" stroke-width="0.8"/>
<line x1="69.0" y1="18.8" x2="68.4" y2="26.9" stroke="#625f68" stroke-width="0.8"/>
<line x1="78.4" y1="18.8" x2="77.8" y2="26.9" stroke="#625f68" stroke-width="0.8"/>
<line x1="87.8" y1="18.8" x2="87.2" y2="26.9" stroke="#625f68" stroke-width="0.8"/>
<line x1="97.2" y1="18.8" x2="96.6" y2="26.9" stroke="#625f68" stroke-width="0.8"/>
<line x1="106.6" y1="18.8" x2="106.0" y2="26.9" stroke="#625f68" stroke-width="0.8"/>
<line x1="0" y1="26.9" x2="108" y2="26.9" stroke="#625f68" stroke-width="1"/>
<line x1="7.0" y1="26.9" x2="6.4" y2="38.5" stroke="#625f68" stroke-width="0.8"/>
<line x1="19.3" y1="26.9" x2="18.7" y2="38.5" stroke="#625f68" stroke-width="0.8"/>
<line x1="31.5" y1="26.9" x2="30.9" y2="38.5" stroke="#625f68" stroke-width="0.8"/>
<line x1="43.8" y1="26.9" x2="43.2" y2="38.5" stroke="#625f68" stroke-width="0.8"/>
<line x1="56.1" y1="26.9" x2="55.5" y2="38.5" stroke="#625f68" stroke-width="0.8"/>
<line x1="68.4" y1="26.9" x2="67.8" y2="38.5" stroke="#625f68" stroke-width="0.8"/>
<line x1="80.6" y1="26.9" x2="80.0" y2="38.5" stroke="#625f68" stroke-width="0.8"/>
<line x1="92.9" y1="26.9" x2="92.3" y2="38.5" stroke="#625f68" stroke-width="0.8"/>
<line x1="105.2" y1="26.9" x2="104.6" y2="38.5" stroke="#625f68" stroke-width="0.8"/>
<line x1="0" y1="38.5" x2="108" y2="38.5" stroke="#625f68" stroke-width="1"/>
<line x1="3.0" y1="38.5" x2="2.4" y2="42.1" stroke="#625f68" stroke-width="0.8"/>
<line x1="15.3" y1="38.5" x2="14.7" y2="42.1" stroke="#625f68" stroke-width="0.8"/>
<line x1="27.5" y1="38.5" x2="26.9" y2="42.1" stroke="#625f68" stroke-width="0.8"/>
<line x1="39.8" y1="38.5" x2="39.2" y2="42.1" stroke="#625f68" stroke-width="0.8"/>
<line x1="52.1" y1="38.5" x2="51.5" y2="42.1" stroke="#625f68" stroke-width="0.8"/>
<line x1="64.4" y1="38.5" x2="63.8" y2="42.1" stroke="#625f68" stroke-width="0.8"/>
<line x1="76.6" y1="38.5" x2="76.0" y2="42.1" stroke="#625f68" stroke-width="0.8"/>
<line x1="88.9" y1="38.5" x2="88.3" y2="42.1" stroke="#625f68" stroke-width="0.8"/>
<line x1="101.2" y1="38.5" x2="100.6" y2="42.1" stroke="#625f68" stroke-width="0.8"/>
<line x1="0" y1="42.1" x2="108" y2="42.1" stroke="#625f68" stroke-width="1"/>
<line x1="14" y1="42.1" x2="10" y2="52" stroke="#77747c" stroke-width="0.8"/>
<line x1="36" y1="42.1" x2="33" y2="52" stroke="#77747c" stroke-width="0.8"/>
<line x1="55" y1="42.1" x2="55" y2="52" stroke="#77747c" stroke-width="0.8"/>
<line x1="72" y1="42.1" x2="77" y2="52" stroke="#77747c" stroke-width="0.8"/>
<line x1="88" y1="42.1" x2="99" y2="52" stroke="#77747c" stroke-width="0.8"/>
<line x1="101" y1="42.1" x2="116" y2="52" stroke="#77747c" stroke-width="0.8"/>
</svg>
<text x="1260.6" y="966.1" font-size="16.8" fill="#6c86bc" font-weight="normal" textLength="91.0" lengthAdjust="spacingAndGlyphs" >Easy samples</text>
<polygon points="617.5,348.3 752.9,348.3 752.9,361.7 630.9,361.7 630.9,713.3 617.5,713.3" fill="#000" />
<polygon points="610.3,712.3 638.1,712.3 624.2,725.3" fill="#000" />
<text x="499.5" y="483.4" font-size="15.2" fill="#000" font-weight="bold" textLength="90.2" lengthAdjust="spacingAndGlyphs" >8. Download</text>
<text x="488.7" y="504.0" font-size="15.2" fill="#000" font-weight="bold" textLength="111.9" lengthAdjust="spacingAndGlyphs" >Cloud inference</text>
<text x="495.9" y="524.2" font-size="15.2" fill="#000" font-weight="bold" textLength="97.5" lengthAdjust="spacingAndGlyphs" >result to Edge</text>
<polygon points="414.8,761.7 550.3,761.7 550.3,774.7 428.8,774.7 428.8,1002.7 414.8,1002.7" fill="#000" />
<polygon points="408.0,1002.1 436.0,1002.1 422.0,1015.1" fill="#000" />
<text x="293.6" y="871.5" font-size="15.2" fill="#000" font-weight="bold" textLength="112.1" lengthAdjust="spacingAndGlyphs" >9. Output Cloud</text>
<text x="294.6" y="892.3" font-size="15.2" fill="#000" font-weight="bold" textLength="110.5" lengthAdjust="spacingAndGlyphs" >inference result</text>
<text x="296.9" y="911.8" font-size="15.2" fill="#000" font-weight="bold" textLength="105.9" lengthAdjust="spacingAndGlyphs" >of hard sample</text>
<rect x="1058.4" y="640.2" width="10.7" height="43.0" fill="#000" />
<polygon points="1053.6,682.7 1075.3,682.7 1064.4,694.0" fill="#000" />
<text x="935.4" y="674.0" font-size="15.2" fill="#000" font-weight="bold" textLength="116.0" lengthAdjust="spacingAndGlyphs" >10. Update Edge</text>
<text x="970.8" y="694.5" font-size="15.2" fill="#000" font-weight="bold" textLength="44.8" lengthAdjust="spacingAndGlyphs" >Model</text>
<rect x="1296.4" y="678.0" width="11.6" height="61.4" fill="#000" />
<polygon points="1290.7,679.0 1313.0,679.0 1301.9,668.0" fill="#000" />
<text x="1338.4" y="683.9" font-size="15.2" fill="#000" font-weight="bold" textLength="104.4" lengthAdjust="spacingAndGlyphs" >5. Upload hard</text>
<text x="1326.3" y="704.5" font-size="15.2" fill="#000" font-weight="bold" textLength="129.1" lengthAdjust="spacingAndGlyphs" >examples to cloud</text>
<rect x="613.4" y="963.0" width="10.8" height="61.0" fill="#000" />
<polygon points="608.5,963.6 629.1,963.6 618.8,953.6" fill="#000" />
<text x="630.2" y="991.4" font-size="15.2" fill="#000" font-weight="bold" textLength="136.2" lengthAdjust="spacingAndGlyphs" >1. Collect inference</text>
<text x="669.9" y="1010.9" font-size="15.2" fill="#000" font-weight="bold" textLength="57.8" lengthAdjust="spacingAndGlyphs" >samples</text>
<rect x="1297.2" y="978.4" width="12.2" height="43.5" fill="#000" />
<polygon points="1292.6,1021.0 1314.4,1021.0 1303.5,1032.8" fill="#000" />
<text x="1139.7" y="1010.9" font-size="15.2" fill="#000" font-weight="bold" textLength="139.0" lengthAdjust="spacingAndGlyphs" >5. Output inference</text>
<text x="1127.6" y="1031.6" font-size="15.2" fill="#000" font-weight="bold" textLength="163.7" lengthAdjust="spacingAndGlyphs" >results of easy samples</text>
<svg x="365.4" y="1027.2" width="107.9" height="53.5" viewBox="0 0 108 54" preserveAspectRatio="none">
<rect x="0.0" y="0.0" width="108.0" height="54.0" fill="#d03169" />
<rect x="0.0" y="0.0" width="30.0" height="30.0" fill="#dc457e" />
<rect x="29.8" y="0.0" width="6.6" height="27.0" fill="#e15288" />
<rect x="54.8" y="0.0" width="5.9" height="27.0" fill="#e15288" />
<rect x="82.0" y="0.0" width="6.0" height="27.0" fill="#e15288" />
<polygon points="0.0,0.0 29.4,0.0 29.4,5.0 0.0,8.0" fill="#3f2a7d" />
<polygon points="6.0,27.0 9.0,19.0 14.0,15.5 29.4,14.0 29.4,26.6" fill="#976f76" />
<rect x="37.0" y="14.8" width="9.0" height="10.5" fill="#a3647a" />
<rect x="105.0" y="9.0" width="3.0" height="14.0" fill="#9a5c72" />
<polygon points="0.0,27.5 12.0,27.0 24.7,30.3 108.0,28.8 108.0,54.0 0.0,54.0" fill="#64a565" />
<polygon points="24.7,25.2 108.0,24.2 108.0,28.9 24.7,30.4" fill="#f0a93d" />
<rect x="12.9" y="26.6" width="9.6" height="4.0" fill="#c6e8da" />
<rect x="16.0" y="27.6" width="4.0" height="1.6" fill="#2e8a62" />
<rect x="13.6" y="22.2" width="9.0" height="1.6" fill="#4a4630" />
<rect x="58.5" y="12.2" width="4.5" height="1.5" fill="#5a1838" />
<rect x="65.9" y="27.3" width="3.7" height="1.5" fill="#4a3a12" />
<rect x="52.6" y="42.2" width="3.7" height="1.5" fill="#16501e" />
</svg>
<rect x="574.0" y="1033.7" width="108.0" height="24.0" fill="#2a2926" />
<rect x="574.0" y="1033.7" width="7.5" height="24.0" fill="#8e8e8e" />
<polygon points="664.0,1033.7 678.0,1033.7 680.0,1045.7 670.0,1043.7" fill="#b4a23a" />
<rect x="676.5" y="1034.7" width="1.5" height="11.0" fill="#3a3020" />
<rect x="622.0" y="1039.7" width="12.0" height="2.5" fill="#d8d4b0" opacity="0.8"/>
<rect x="636.0" y="1040.7" width="4.0" height="2.0" fill="#c8c4a0" opacity="0.6"/>
<polygon points="596.0,1052.5 702.7,1050.9 702.7,1057.7 595.0,1057.7" fill="#b0b0b4" />
<polygon points="596.0,1052.5 702.7,1050.9 702.7,1052.3 596.0,1053.9" fill="#5e5e60" />
<rect x="596.0" y="1055.3" width="106.7" height="0.8" fill="#77777a" />
<svg x="1240.8" y="1044.5" width="108.3" height="53.0" viewBox="0 0 107 53" preserveAspectRatio="none">
<rect x="0.0" y="0.0" width="107.0" height="53.0" fill="#196a4b" />
<rect x="0.0" y="0.0" width="9.0" height="38.0" fill="#237d5a" />
<rect x="91.0" y="0.0" width="16.0" height="19.0" fill="#64c850" />
<rect x="17.0" y="20.0" width="35.0" height="6.5" fill="#3cb450" />
<polygon points="9.0,10.0 13.0,7.5 16.5,10.0 17.0,26.0 13.0,27.5 9.5,22.0" fill="#eba528" />
<rect x="13.0" y="27.0" width="5.0" height="9.0" fill="#28325a" />
<rect x="0.0" y="37.0" width="107.0" height="16.0" fill="#69aa64" />
<rect x="29.0" y="23.0" width="10.0" height="1.8" fill="#0f4628" />
<rect x="96.0" y="13.0" width="8.0" height="1.6" fill="#2e8a3a" />
<rect x="11.5" y="17.0" width="4.0" height="1.6" fill="#5a3a14" />
</svg>
<text x="1754.0" y="1045.4" font-size="14.4" fill="#a2a2a2" font-weight="normal" textLength="20.0" lengthAdjust="spacingAndGlyphs" >180</text>
<path d="M1061.5,900.2 V916.4 L1065.2,913 L1067.9,919 L1070.3,918 L1067.6,912.1 H1072.8 Z" fill="#fff" stroke="#000" stroke-width="1" stroke-linejoin="round"/>
</svg></div>
<div id="taskbar"><svg width="1773" height="50" viewBox="0 1058 1773 50">
<rect x="303.0" y="1058.0" width="60.3" height="50.0" fill="#fdb97a" />
<rect x="303.0" y="1105.0" width="60.3" height="3.0" fill="#f08c28" />
<rect x="427.0" y="1058.0" width="56.5" height="50.0" fill="#eaf0f6" />
<rect x="483.5" y="1058.0" width="1.2" height="50.0" fill="#c3d0da" />
<rect x="0.0" y="1105.0" width="48.7" height="3.0" fill="#0b74c8" />
<rect x="246.0" y="1105.0" width="51.0" height="3.0" fill="#0b74c8" />
<rect x="370.0" y="1105.0" width="50.8" height="3.0" fill="#0b74c8" />
<rect x="427.0" y="1105.0" width="61.0" height="3.0" fill="#0b74c8" />
<rect x="494.2" y="1105.0" width="41.1" height="3.0" fill="#0b74c8" />
<rect x="556.2" y="1105.0" width="50.7" height="3.0" fill="#0b74c8" />
<rect x="618.3" y="1105.0" width="50.8" height="3.0" fill="#0b74c8" />
<rect x="535.3" y="1105.0" width="9.5" height="3.0" fill="#6fa6d8" />
<path d="M9.5,1072.5 a1.5,1.5 0 0 1 1.5,-1.5 h9 l2,2.6 h13 a1.5,1.5 0 0 1 1.5,1.5 v16.4 a1.5,1.5 0 0 1 -1.5,1.5 h-24 a1.5,1.5 0 0 1 -1.5,-1.5 Z" fill="#fbd56e"/>
<rect x="10.0" y="1071.0" width="11.0" height="2.6" fill="#e6a51f" rx="1"/>
<rect x="9.5" y="1075.5" width="27.0" height="3.0" fill="#f7c752" />
<path d="M14,1093.5 v-8.5 a1.5,1.5 0 0 1 1.5,-1.5 h15 a1.5,1.5 0 0 1 1.5,1.5 v8.5 h-5 v-5 h-8 v5 Z" fill="#3f8bd2"/>
<polygon points="70.0,1082.0 85.0,1069.0 100.0,1082.0" fill="#0f5fa8" />
<polygon points="73.5,1082.0 73.5,1078.6 96.5,1078.6 96.5,1082.0" fill="#eef3f8" />
<polygon points="70.0,1081.5 100.0,1081.5 100.0,1096.0 70.0,1096.0" fill="#2aa5e6" />
<polygon points="74.0,1079.0 96.0,1079.0 86.0,1087.4" fill="#f4f7fb" />
<polygon points="86.0,1087.4 100.0,1081.5 100.0,1096.0" fill="#39b5ef" />
<polygon points="70.0,1096.0 86.0,1087.4 100.0,1096.0" fill="#1b88ce" />
<defs><linearGradient id="shg" x1="0" y1="0" x2="1" y2="0.3"><stop offset="0" stop-color="#1560d6"/><stop offset="1" stop-color="#2488f4"/></linearGradient><linearGradient id="npg" x1="0" y1="0" x2="0" y2="1"><stop offset="0" stop-color="#f4f6f2"/><stop offset="0.42" stop-color="#e6efb0"/><stop offset="0.62" stop-color="#b4d850"/><stop offset="1" stop-color="#34a42a"/></linearGradient></defs>
<path d="M147,1068.8 c4,0 9,1 12.2,2.6 c1.2,0.6 1.5,1.4 1.4,2.8 c-0.5,10 -4,17.5 -12.2,22.2 c-0.9,0.5 -1.9,0.5 -2.8,0 c-8.2,-4.7 -11.7,-12.2 -12.2,-22.2 c-0.1,-1.4 0.2,-2.2 1.4,-2.8 c3.2,-1.6 8.2,-2.6 12.2,-2.6 Z" fill="url(#shg)"/>
<path d="M143.8,1075.2 c0,-1 0.6,-1.5 1.6,-1.5 h3.4 c1,0 1.6,0.5 1.6,1.5 v10.6 c3,-0.1 6,-0.7 8.6,-1.9 c-1.6,4 -5,7 -10,8.6 c-3.4,-0.4 -5.2,-2.4 -5.2,-5.6 Z" fill="#f2f7ff"/>
<path d="M195.3,1070.4 h14.6 l6.2,5.6 v19.2 h-20.8 Z" fill="url(#npg)" stroke="#b4bcc4" stroke-width="0.7"/>
<path d="M209.9,1070.4 v5.6 h6.2 Z" fill="#dfe4ea" stroke="#b4bcc4" stroke-width="0.6"/>
<path d="M199.5,1084.5 c1,-5 6,-8 9.5,-5.5 c3,2.4 0,5.2 -3.6,5.8 c3.6,0.2 6,2.2 6.4,5 M200.5,1088.5 c3,-2 7,-2 9.6,0.6" fill="none" stroke="#35601e" stroke-width="1.5" stroke-linecap="round" opacity="0.85"/>
<polygon points="220.2,1069.6 222.6,1070.6 215.6,1092.2 213.6,1094.2 213.5,1091.4" fill="#dca050" />
<polygon points="220.2,1069.6 222.6,1070.6 221.8,1072.9 219.4,1071.9" fill="#3c4064" />
<path d="M271.3,1082.8 L258.14,1075.20 A15.2,15.2 0 0 1 284.46,1075.20 Z" fill="#e5432f"/>
<path d="M271.3,1082.8 L284.46,1075.20 A15.2,15.2 0 0 1 271.30,1098.00 Z" fill="#f9c12b"/>
<path d="M271.3,1082.8 L271.30,1098.00 A15.2,15.2 0 0 1 258.14,1075.20 Z" fill="#2f9e4f"/>
<polygon points="271.3,1082.8 284.5,1075.2 286.0,1078.9 286.5,1082.8 278.5,1082.8" fill="#f9c12b" />
<polygon points="271.3,1082.8 258.1,1075.2 260.6,1072.1 263.7,1069.6 269.2,1075.1" fill="#e5432f" />
<circle cx="271.3" cy="1082.8" r="7.3" fill="#f4f7fa"/>
<circle cx="271.3" cy="1082.8" r="5.6" fill="#3b7ded"/>
<ellipse cx="327.8" cy="1078.6" rx="10.6" ry="9" fill="#2fc253"/>
<polygon points="320.5,1084.0 319.8,1089.2 325.0,1086.8" fill="#2fc253" />
<ellipse cx="339.3" cy="1086.6" rx="8.8" ry="7.5" fill="#f3efe9"/>
<polygon points="344.0,1092.0 345.2,1095.6 340.5,1093.8" fill="#f3efe9" />
<circle cx="324" cy="1076.3" r="1.2" fill="#1e7a34"/>
<circle cx="331.6" cy="1076.3" r="1.2" fill="#1e7a34"/>
<circle cx="336.2" cy="1084.8" r="1.1" fill="#d7b9a6"/>
<circle cx="342.4" cy="1084.8" r="1.1" fill="#d7b9a6"/>
<polygon points="401.2,1067.7 410.7,1072.3 410.7,1093.2 401.2,1097.6" fill="#2b9cf2" />
<polygon points="401.2,1067.7 401.2,1076.2 384.3,1089.6 380.0,1086.6 380.6,1085.2" fill="#0a6fc2" />
<polygon points="401.2,1097.6 401.2,1089.2 384.3,1075.8 380.0,1078.8 380.6,1080.2" fill="#1182da" />
<polygon points="401.2,1076.2 401.2,1067.7 395.5,1073.2" fill="#0a6fc2" />
<rect x="443.7" y="1069.2" width="26.8" height="26.1" fill="#fdfdfe" rx="4.5"/>
<text x="457.1" y="1089.2" font-size="21" font-weight="bold" text-anchor="middle" fill="#2b2b2b" style="font-family:'Liberation Serif',serif">T</text>
<rect x="505.3" y="1068.4" width="27.2" height="26.6" fill="#d2210e" rx="4"/>
<path d="M510.5,1089.5 c3,-2 6,-7 7.2,-12.5 c0.6,-3 -1.6,-3.4 -1.8,-0.8 c-0.3,4 3.5,9 10.2,10.6 c2.4,0.5 2.6,-1.6 0.2,-1.9 c-5,-0.5 -11.5,1.2 -15.5,3.6 c-2,1.2 -1.6,2.2 -0.3,1 Z" fill="none" stroke="#fbe9e4" stroke-width="1.7" stroke-linejoin="round"/>
<defs><linearGradient id="pg" x1="0" y1="1" x2="1" y2="0"><stop offset="0" stop-color="#e254c8"/><stop offset="0.5" stop-color="#8b55e6"/><stop offset="1" stop-color="#4b79ec"/></linearGradient></defs>
<rect x="566.1" y="1068.1" width="30.0" height="29.6" fill="url(#pg)" rx="8"/>
<g fill="none" stroke="#fff" stroke-width="1.6" stroke-linecap="round"><path d="M572.5,1074 l4,18"/><path d="M577.5,1074 l2,9"/><path d="M576,1092 c0,-9 5,-15 14,-17"/><path d="M580,1092 c0,-7 4,-11 11,-12.5"/><path d="M584,1092 c0,-5 2.5,-7.5 7,-8.5"/><path d="M588,1092 c0.2,-2.6 1.2,-3.8 3.4,-4.4"/></g>
<rect x="628.8" y="1068.4" width="28.2" height="27.6" fill="#3d8ff0" rx="8"/>
<rect x="634.6" y="1077.6" width="11.0" height="9.0" fill="#fff" rx="2"/>
<polygon points="646.6,1080.6 651.4,1077.8 651.4,1086.4 646.6,1083.6" fill="#fff" />
<path d="M1524.6,1087 L1532.3,1079.2 L1540,1087" fill="none" stroke="#1c2730" stroke-width="1.5"/>
<path d="M1552.5,1080.2 h2.4 l3.7,-3.5 v13 l-3.7,-3.3 h-2.4 Z" fill="none" stroke="#1c2730" stroke-width="1.15" stroke-linejoin="round"/>
<path d="M1562.2,1081.6 q1.4,1.7 0,3.4 M1565,1078.6 q3,4.7 0,9.4 M1568.4,1074.8 q5.4,8.3 0,16.6" fill="none" stroke="#1c2730" stroke-width="1.15" stroke-linecap="round"/>
<line x1="1601.6" y1="1075.6" x2="1593.6" y2="1090.4" stroke="#1c2730" stroke-width="4.4" stroke-linecap="round"/>
<line x1="1601.6" y1="1075.6" x2="1593.6" y2="1090.4" stroke="#dde4e9" stroke-width="2.1" stroke-linecap="round"/>
<path d="M1601.4,1081.4 c4,-1.6 6.4,0.2 4.6,2.2 c-1,1.1 -2.4,1.3 -3.2,1.1 M1592.6,1086.2 c-5.6,-1 -7.6,5.8 -2.6,6.4 c1.6,0.2 2.6,-0.3 3.2,-1" fill="none" stroke="#1c2730" stroke-width="1.15" stroke-linecap="round"/>
<text transform="translate(1620.2,1089.4) scale(1,0.84)" x="0" y="0" font-size="20" font-weight="500" fill="#1c2730">英</text>
<rect x="1657.3" y="1073.8" width="19.4" height="19.0" fill="#fff" stroke="#1c2730" stroke-width="1"/>
<text x="1659.8" y="1088.6" font-size="14.4" fill="#1c2730">拼</text>
<text x="1717.1" y="1076.2" font-size="14.8" fill="#1c2730" font-weight="normal" textLength="38.1" lengthAdjust="spacingAndGlyphs" >17:23</text>
<text x="1699.7" y="1099.3" font-size="14.8" fill="#1c2730" font-weight="normal" textLength="79.8" lengthAdjust="spacingAndGlyphs" >2023/7/27</text>
</svg></div>
</body></html>
